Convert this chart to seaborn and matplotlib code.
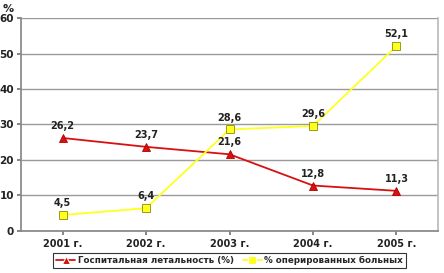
import numpy as np
import pandas as pd
import matplotlib
matplotlib.use("Agg")
import matplotlib.pyplot as plt
import seaborn as sns

categories = ["2001 г.", "2002 г.", "2003 г.", "2004 г.", "2005 г."]
mortality = [26.2, 23.7, 21.6, 12.8, 11.3]
operated = [4.5, 6.4, 28.6, 29.6, 52.1]
series_names = ["Госпитальная летальность (%)", "% оперированных больных"]

sns.set_theme(style="white")
plt.rcParams['font.family'] = ['DejaVu Sans']

fig = plt.figure(figsize=(4.44, 2.73), dpi=100)
ax = fig.add_axes([0.047, 0.154, 0.94, 0.78])

xpos = np.arange(len(categories))
df = pd.DataFrame({"x": np.concatenate([xpos, xpos]),
                   "y": mortality + operated,
                   "s": [series_names[0]] * 5 + [series_names[1]] * 5})

sns.lineplot(data=df, x="x", y="y", hue="s", style="s",
             palette={series_names[0]: "#d81010", series_names[1]: "#ffff20"},
             markers={series_names[0]: "^", series_names[1]: "s"},
             dashes=False, markersize=6, linewidth=1.3, ax=ax)
for line, ec in zip(ax.lines[:2], ["#b00000", "#8a8a00"]):
    line.set_markeredgecolor(ec)
    line.set_markeredgewidth(0.6)

for i, v in enumerate(mortality):
    ax.annotate(f"{v:.1f}".replace(".", ","), (xpos[i], v), xytext=(0, 5),
                textcoords="offset points", ha="center", va="bottom",
                fontsize=7, fontweight="bold", color="#222222")
for i, v in enumerate(operated):
    ax.annotate(f"{v:.1f}".replace(".", ","), (xpos[i], v), xytext=(0, 5),
                textcoords="offset points", ha="center", va="bottom",
                fontsize=7, fontweight="bold", color="#222222")

ax.set_xlim(-0.5, 4.5)
ax.set_ylim(0, 60)
ax.set_yticks(range(0, 61, 10))
ax.set_xticks(xpos)
ax.set_xticklabels(categories)
ax.set_xlabel("")
ax.set_ylabel("")
ax.yaxis.grid(True, color="#9a9a9a", linewidth=1)
ax.tick_params(axis="both", labelsize=7.5, length=3, color="#777777", direction="out",
               left=True, bottom=True, pad=2)
for lbl in ax.get_xticklabels() + ax.get_yticklabels():
    lbl.set_fontweight("bold")
    lbl.set_color("#222222")
ax.tick_params(axis="x", pad=3, labelsize=7)
ax.spines["top"].set_visible(False)
ax.spines["left"].set_color("#888888")
ax.spines["bottom"].set_color("#888888")
ax.spines["right"].set_color("#bbbbbb")

fig.text(0.005, 0.985, "%", fontsize=8, fontweight="bold", ha="left", va="top", color="#222222")

leg = ax.legend(loc="upper center", bbox_to_anchor=(0.5, -0.105), ncol=2, frameon=True,
                fontsize=6.3, handlelength=2.2, borderpad=0.3, columnspacing=1.0,
                handletextpad=0.3, fancybox=False, edgecolor="black", borderaxespad=0)
leg.get_frame().set_linewidth(0.8)
for t in leg.get_texts():
    t.set_fontweight("bold")

fig.savefig("out.png", dpi=100)
